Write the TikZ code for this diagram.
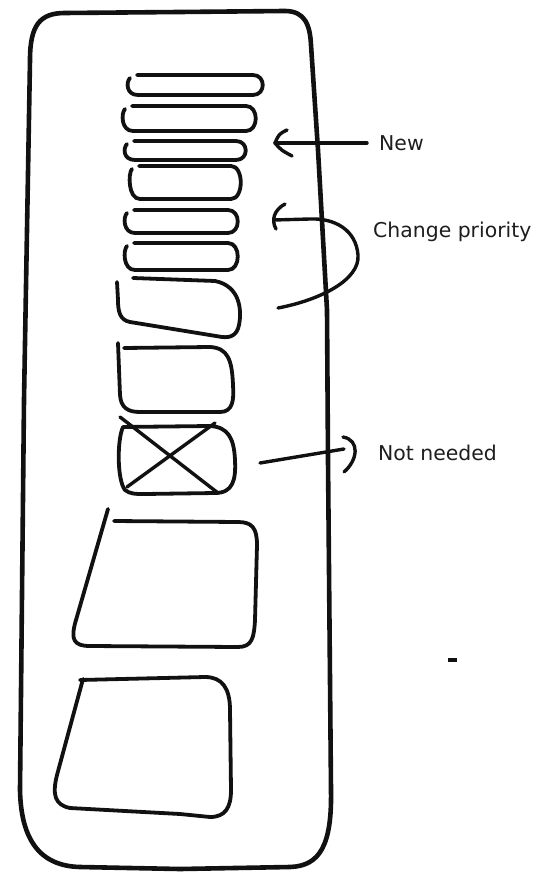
\documentclass[tikz,border=0pt]{standalone}
\usepackage{fontspec}
\setmainfont{DejaVu Sans}
\definecolor{ink}{HTML}{111111}
\definecolor{txt}{HTML}{1E1E1E}
\newcommand{\hpin}[4]{\draw[item] ({#1+9},#3) -- ({#2-12},#3) .. controls ({#2+1},#3) and ({#2+1},#4) .. ({#2-12},#4) -- ({#1+10},#4) .. controls ({#1-2},#4) and ({#1-2},{#3+7}) .. ({#1+2},{#3+3});}
\begin{document}
\begin{tikzpicture}[x=1pt,y=-1pt,
  frame/.style={draw=ink,line width=4.6pt,line cap=round,line join=round},
  item/.style={draw=ink,line width=3.8pt,line cap=round,line join=round},
  xline/.style={draw=ink,line width=3.4pt,line cap=round},
  arr/.style={draw=ink,line width=3.4pt,line cap=round,line join=round},
  lbl/.style={anchor=base west,inner sep=0pt,text=txt,font=\fontsize{20.4}{24}\selectfont}]
\useasboundingbox[fill=white] (0,0) rectangle (541,874);
% outer frame
\draw[frame] (30,60) .. controls (30,25) and (40,13) .. (65,13) -- (180,12) -- (285,11) .. controls (305,11) and (310,25) .. (311,45) -- (318,150) -- (327,310) -- (328,460) -- (331,790) .. controls (332,845) and (320,866) .. (290,867) -- (180,869) -- (80,867) .. controls (40,866) and (21,840) .. (20,790) -- (24,400) -- cycle;
% small items
\hpin{128}{265}{75}{95}
\hpin{123}{258}{106}{131}
\hpin{125}{248}{141}{160}
\hpin{130}{243}{166}{199}
\hpin{125}{240}{210}{233}
\hpin{125}{240}{243}{270}
\draw[item] (133,278) -- (215,281) .. controls (240,286) and (242,310) .. (239,325) .. controls (237,335) and (231,338) .. (222,337) -- (130,322) .. controls (120,320) and (118,312) .. (118,300) -- (117,282);
\draw[item] (118,343) -- (120,395) .. controls (121,408) and (128,412) .. (140,412) -- (220,412) .. controls (233,412) and (234,400) .. (233,385) .. controls (232,360) and (228,348) .. (210,347) -- (124,348);
\draw[item] (123,427) .. controls (117,440) and (117,480) .. (125,490) .. controls (130,494) and (135,494) .. (145,494) -- (215,493) .. controls (233,493) and (236,480) .. (235,460) .. controls (234,438) and (228,427) .. (210,426) -- cycle;
\draw[xline] (120,417) -- (218,493);
\draw[xline] (127,487) -- (215,423);
% big boxes
\draw[item] (108,509) -- (76,620) .. controls (70,640) and (74,646) .. (90,646) -- (238,647) .. controls (252,647) and (254,638) .. (255,620) -- (257,545) .. controls (257,528) and (252,522) .. (238,522) -- (114,521);
\draw[item] (83,679) -- (57,775) .. controls (52,795) and (55,805) .. (70,808) -- (180,814) -- (210,817) .. controls (225,817) and (231,808) .. (231,790) -- (230,710) .. controls (230,688) and (222,677) .. (205,677) -- (80,680);
% stray mark
\fill[ink] (448,658) rectangle (457,662);
% labels
\node[lbl] (lnew) at (379,151) {New};
\node[lbl] (lcp) at (373,238) {Change priority};
\node[lbl] (lnn) at (378,460) {Not needed};
% arrows
\coordinate (newtail) at (367,143);
\coordinate (newtip) at (275,143);
\draw[arr] (newtail) -- (newtip);
\draw[arr] (287,130) .. controls (279,134) .. (newtip) .. controls (281,150) .. (292,156);
\coordinate (cpstart) at (278,308);
\coordinate (cpend) at (274,220);
\draw[arr] (cpstart) .. controls (320,300) and (360,280) .. (358,255) .. controls (356,230) and (335,218) .. (310,219) -- (cpend);
\draw[arr] (285,204) .. controls (274,210) and (271,220) .. (276,229);
\coordinate (nntail) at (260,463);
\coordinate (nntip) at (344,449);
\draw[arr] (nntail) -- (nntip);
\draw[arr] (343,437) .. controls (360,440) and (358,460) .. (344,472);
\end{tikzpicture}
\end{document}
